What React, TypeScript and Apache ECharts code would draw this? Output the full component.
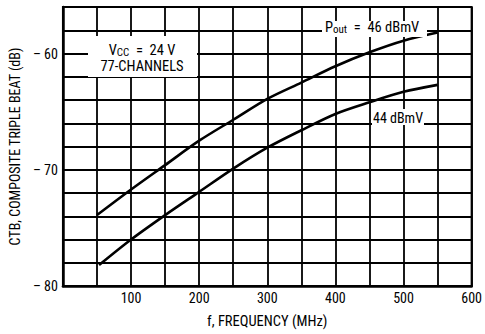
import React, { useEffect, useRef } from "react";
import * as echarts from "echarts";

const freq46 = [50, 100, 150, 200, 250, 300, 350, 400, 450, 500, 550];
const ctb46 = [-73.9, -71.7, -69.6, -67.5, -65.7, -63.9, -62.5, -61.1, -59.9, -58.9, -58.2];
const freq44 = [53, 100, 150, 200, 250, 300, 350, 400, 450, 500, 550];
const ctb44 = [-78.2, -76.0, -73.9, -71.9, -69.9, -68.1, -66.6, -65.2, -64.2, -63.3, -62.7];
const yLabelTicks = [-60, -70, -80];
const xLabelTicks = [100, 200, 300, 400, 500, 600];

const FONT = "'Liberation Sans Narrow', 'Arial Narrow', 'Roboto Condensed', 'Liberation Sans', sans-serif";

export default function App() {
  const ref = useRef<HTMLDivElement>(null);
  useEffect(() => {
    if (!ref.current) return;
    const chart = echarts.init(ref.current, null, { renderer: "svg" });
    const txt = { color: "#000", fontFamily: FONT, fontSize: 14 };
    chart.setOption({
      animation: false,
      backgroundColor: "#fff",
      grid: {
        left: 55,
        right: 7,
        top: 7,
        bottom: 45,
        show: true,
        borderColor: "#000",
        borderWidth: 2,
      },
      xAxis: {
        type: "value",
        min: 0,
        max: 600,
        interval: 50,
        name: "f, FREQUENCY (MHz)",
        nameLocation: "middle",
        nameGap: 28,
        nameTextStyle: { ...txt, fontSize: 14.5 },
        axisLine: { show: true, lineStyle: { color: "#000", width: 2.5 } },
        axisTick: { show: false },
        splitLine: { show: true, lineStyle: { color: "#000", width: 1.8 } },
        axisLabel: {
          ...txt,
          margin: 5,
          formatter: (v: number) => (xLabelTicks.includes(v) ? String(v) : ""),
        },
      },
      yAxis: {
        type: "value",
        min: -80,
        max: -56,
        interval: 2,
        name: "CTB, COMPOSITE TRIPLE BEAT (dB)",
        nameLocation: "middle",
        nameGap: 37,
        nameTextStyle: { ...txt, fontSize: 14 },
        axisLine: { show: true, lineStyle: { color: "#000", width: 2.5 } },
        axisTick: { show: false },
        splitLine: { show: true, lineStyle: { color: "#000", width: 1.8 } },
        axisLabel: {
          ...txt,
          margin: 5,
          formatter: (v: number) => (yLabelTicks.includes(v) ? "– " + Math.abs(v) : ""),
        },
      },
      series: [
        {
          type: "line",
          name: "46 dBmV",
          data: freq46.map((f, i) => [f, ctb46[i]]),
          smooth: 0.3,
          symbol: "none",
          lineStyle: { color: "#000", width: 2.6 },
          z: 3,
        },
        {
          type: "line",
          name: "44 dBmV",
          data: freq44.map((f, i) => [f, ctb44[i]]),
          smooth: 0.3,
          symbol: "none",
          lineStyle: { color: "#000", width: 2.6 },
          z: 3,
        },
      ],
      graphic: [
        { type: "rect", shape: { x: 88, y: 36, width: 109, height: 41 }, style: { fill: "#fff" }, z: 10 },
        {
          type: "text",
          x: 142,
          y: 42,
          z: 11,
          style: {
            text: "{a|V}{s|CC}{a|  =  24 V}\n{a|77-CHANNELS}",
            align: "center",
            fill: "#000",
            rich: {
              a: { fontFamily: FONT, fontSize: 14.5, lineHeight: 16, fill: "#000", verticalAlign: "bottom" },
              s: { fontFamily: FONT, fontSize: 11, lineHeight: 16, fill: "#000", padding: [4, 0, 0, 0], verticalAlign: "bottom" },
            },
          },
        },
        { type: "rect", shape: { x: 322, y: 21, width: 105, height: 16 }, style: { fill: "#fff" }, z: 10 },
        {
          type: "text",
          x: 325,
          y: 21,
          z: 11,
          style: {
            text: "{a|P}{s|out}{a|  =  46 dBmV}",
            align: "left",
            fill: "#000",
            rich: {
              a: { fontFamily: FONT, fontSize: 14.5, lineHeight: 14, fill: "#000", verticalAlign: "bottom" },
              s: { fontFamily: FONT, fontSize: 11, lineHeight: 14, fill: "#000", padding: [4, 0, 0, 0], verticalAlign: "bottom" },
            },
          },
        },
        { type: "rect", shape: { x: 372, y: 109, width: 52, height: 16 }, style: { fill: "#fff" }, z: 10 },
        {
          type: "text",
          x: 398,
          y: 111,
          z: 11,
          style: { text: "44 dBmV", align: "center", fill: "#000", font: "14px " + FONT },
        },
      ],
    });
    return () => chart.dispose();
  }, []);
  return <div ref={ref} style={{ position: "fixed", left: 0, top: 0, width: 485, height: 334 }} />;
}
